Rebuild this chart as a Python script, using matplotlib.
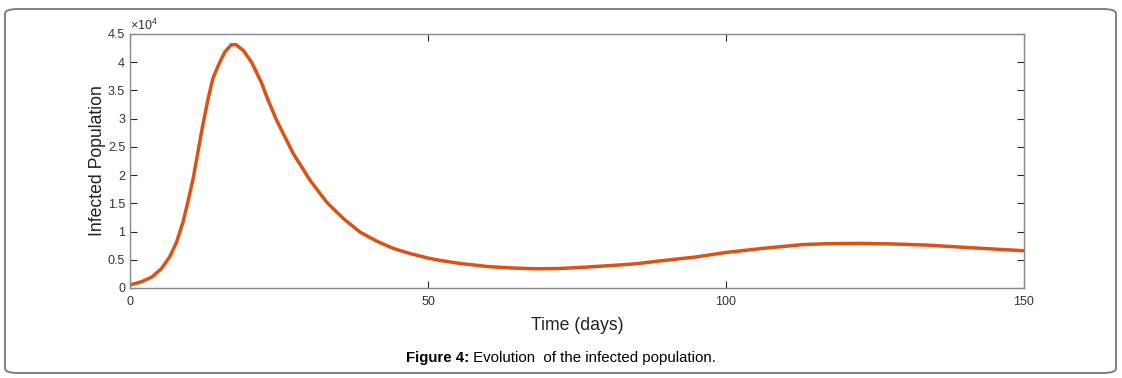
import matplotlib
matplotlib.use("Agg")
import matplotlib.pyplot as plt
from matplotlib.patches import FancyBboxPatch
import numpy as np

plt.rcParams['font.family'] = ['Liberation Sans', 'DejaVu Sans']
plt.rcParams['mathtext.fontset'] = 'custom'
plt.rcParams['mathtext.rm'] = 'Liberation Sans'

# data (days, infected in units of 1e4)
t = [0, 0.2, 1.9, 3.6, 5.25, 6.65, 7.8, 8.9, 9.7, 10.6, 11.4, 12.2, 13.1, 13.9, 14.8,
     15.9, 17.0, 17.8, 19.0, 20.4, 22.0, 23.2, 24.6, 27.4, 30.2, 33.0, 35.8, 38.6,
     41.4, 44.2, 47.0, 50.0, 52.0, 55.0, 60.0, 64.0, 68.0, 72.0, 76.6, 81.0, 85.0,
     88.9, 95.0, 100.0, 106.0, 113.0, 117.0, 122.5, 128.0, 133.7, 140.0, 145.0, 150.0]
infected = [0.05, 0.06, 0.11, 0.19, 0.34, 0.55, 0.81, 1.17, 1.52, 1.94, 2.41, 2.88, 3.35,
            3.71, 3.94, 4.18, 4.31, 4.31, 4.21, 4.00, 3.65, 3.32, 2.97, 2.38, 1.91, 1.52,
            1.23, 0.99, 0.83, 0.70, 0.61, 0.53, 0.49, 0.44, 0.38, 0.355, 0.34, 0.345,
            0.37, 0.40, 0.43, 0.48, 0.55, 0.63, 0.70, 0.77, 0.785, 0.79, 0.78, 0.76,
            0.72, 0.69, 0.66]
xticks = [0, 50, 100, 150]
yticks = [0, 0.5, 1, 1.5, 2, 2.5, 3, 3.5, 4, 4.5]
ytick_labels = ['0', '0.5', '1', '1.5', '2', '2.5', '3', '3.5', '4', '4.5']

W, H = 1122, 378
fig = plt.figure(figsize=(W/100, H/100), dpi=100)
ax = fig.add_axes([130/W, 1-288/H, (1024-130)/W, (288-34)/H])
ax.plot(t, np.array(infected), color='#D95319', lw=2.5, solid_joinstyle='round',
        solid_capstyle='butt')
ax.set_xlim(0, 150)
ax.set_ylim(0, 4.5)
ax.set_xticks(xticks)
ax.set_yticks(yticks)
ax.set_yticklabels(ytick_labels)
ax.tick_params(direction='in', top=True, right=True, length=5, width=0.8,
               colors='#262626', labelsize=9, labelcolor='#333333')
ax.tick_params(axis='x', pad=6)
for s in ax.spines.values():
    s.set_color('#888888')
    s.set_linewidth(1.0)
ax.set_xlabel('Time (days)', fontsize=12.7, color='#222222', labelpad=6)
ax.set_ylabel('Infected Population', fontsize=12.7, color='#222222', labelpad=1)
ax.text(0.0, 1.005, r'$\times10^4$', transform=ax.transAxes, fontsize=9,
        color='#333333', ha='left', va='bottom')

# frame
frame = FancyBboxPatch((5/W, 1-373/H), (1116-5)/W, (373-9)/H,
                       boxstyle='round,pad=0,rounding_size=0.012',
                       transform=fig.transFigure, fill=False, ec='#777777', lw=1.3)
fig.patches.append(frame)

# caption
fig.canvas.draw()
r = fig.canvas.get_renderer()
t1 = fig.text(0, 1-358/H, 'Figure 4:', fontsize=10.8, fontweight='bold', va='center')
t2 = fig.text(0, 1-358/H, ' Evolution  of the infected population.', fontsize=10.8, va='center')
w1 = t1.get_window_extent(r).width
w2 = t2.get_window_extent(r).width
x0 = 561 - (w1 + w2)/2
t1.set_x(x0/W)
t2.set_x((x0 + w1)/W)

fig.savefig('out.png', dpi=100)
